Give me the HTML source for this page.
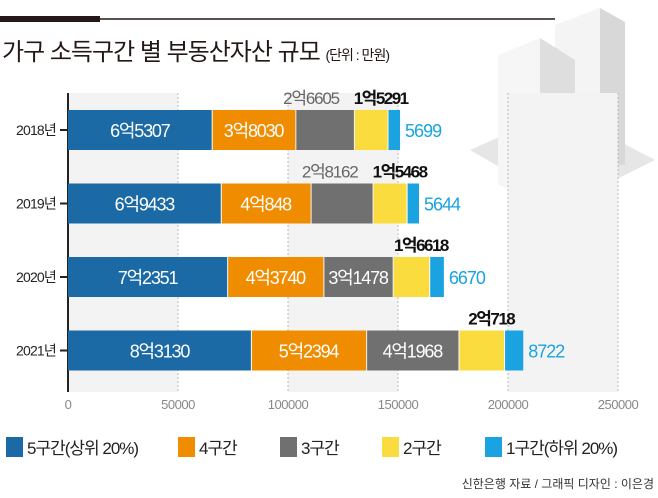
<!DOCTYPE html>
<html><head><meta charset="utf-8"><style>
body{margin:0;background:#fff;width:658px;height:493px;overflow:hidden;font-family:"Liberation Sans","Noto Sans CJK KR",sans-serif}
</style></head><body>
<svg id="c" width="658" height="493" xmlns="http://www.w3.org/2000/svg" style="font-family:'Liberation Sans','Noto Sans CJK KR',sans-serif">
<g>
<polygon points="470,150 560,110 655,160 565,205" fill="#e6e6e6"/>
<polygon points="555,25 600,8 600,165 555,180" fill="#f4f4f4"/>
<polygon points="600,8 625,22 625,165 600,165" fill="#d8d8d8"/>
<polygon points="498,55 540,38 540,200 498,185" fill="#f6f6f6"/>
<polygon points="540,38 575,60 575,190 540,200" fill="#dedede"/>
<rect x="516" y="200" width="100" height="190" fill="#f3f3f3"/>
</g>
<rect x="0" y="16" width="100" height="6" fill="#231815"/>
<line x1="100" y1="19" x2="555" y2="19" stroke="#231815" stroke-width="1.5"/>
<text x="2" y="60" font-size="24" letter-spacing="-1" fill="#231815">가구 소득구간 별 부동산자산 규모 <tspan font-size="14">(단위 : 만원)</tspan></text>
<g id="plot"></g>
<g id="legend"></g>
<text x="654" y="488" font-size="12" fill="#333" text-anchor="end">신한은행 자료 / 그래픽 디자인 : 이은경</text>
</svg>
<script>
const years=["2018년","2019년","2020년","2021년"];
const q5=[65307,69433,72351,83130];
const q4=[38030,40848,43740,52394];
const q3=[26605,28162,31478,41968];
const q2=[15291,15468,16618,20718];
const q1=[5699,5644,6670,8722];
const ticks=[0,50000,100000,150000,200000,250000];
const seriesNames=["5구간(상위 20%)","4구간","3구간","2구간","1구간(하위 20%)"];
const colors=["#1b6aa5","#f08c00","#707070","#fbdc3f","#1aa3e0"];
const ns="http://www.w3.org/2000/svg";
const X0=68,SC=110/50000,Y0=110,STEP=73.5,BH=40,TOP=93,BOT=392;
const x=v=>X0+v*SC, y=i=>Y0+i*STEP;
function fmt(v){const e=Math.floor(v/10000),r=v%10000;return e>0?e+"억"+r:""+r;}
function mk(tag,attrs,parent){const e=document.createElementNS(ns,tag);for(const k in attrs)e.setAttribute(k,attrs[k]);parent.appendChild(e);return e;}
const P=document.getElementById("plot");
ticks.forEach((t,i)=>{
  if(i<ticks.length-1&&i%2==0){const b=mk("rect",{x:x(t),y:TOP,width:x(ticks[i+1])-x(t),height:BOT-TOP,fill:"#f3f3f3"},P);
  
  }
  if(i>0){const g=mk("line",{x1:x(t),x2:x(t),y1:TOP,y2:BOT,stroke:"#aaa","stroke-dasharray":"2,2","stroke-width":0.8},P);
  
  }
  const tl=mk("text",{x:x(t),y:BOT+17,"font-size":13,fill:"#888","text-anchor":"middle","letter-spacing":-0.5},P);tl.textContent=t;
  
  
});
const ax=mk("line",{x1:X0,x2:X0,y1:TOP,y2:BOT,stroke:"#222","stroke-width":2},P);


const series=[q5,q4,q3,q2,q1];
years.forEach((yr,i)=>{
  const yy=y(i);
  const yl=mk("text",{x:56,y:yy+BH/2+5,"font-size":14,fill:"#222","text-anchor":"end","letter-spacing":-0.8},P);yl.textContent=yr;
  
  
  mk("line",{x1:60,x2:X0,y1:yy+BH/2,y2:yy+BH/2,stroke:"#222","stroke-width":2},P);
  let cum=0;
  series.forEach((s,k)=>{
    const v=s[i],x1=x(cum),x2=x(cum+v);
    const r=mk("rect",{x:x1+(k?1:0),y:yy,width:x2-x1-(k?1:0),height:BH,fill:colors[k]},P);
    
    
    const cx=(x1+x2)/2;let t;
    if(k<2||(k==2&&i>=2)){t=mk("text",{x:cx,y:yy+BH/2+7,"font-size":18,fill:"#fff","text-anchor":"middle","letter-spacing":-1.2},P);}
    else if(k==2){t=mk("text",{x:x2-15,y:yy-6,"font-size":17,fill:"#666","text-anchor":"end","letter-spacing":-1.2},P);}
    else if(k==3){t=mk("text",{x:cx+10,y:yy-6,"font-size":17,"font-weight":"bold",fill:"#111","text-anchor":"middle","letter-spacing":-1.5},P);}
    else{t=mk("text",{x:x2+5,y:yy+BH/2+7,"font-size":18,fill:"#1aa3e0","letter-spacing":-1},P);}
    t.textContent=fmt(v);
    
    
    cum+=v;
  });
});
const L=document.getElementById("legend");
const lx=[6,178,280,382,485];
seriesNames.forEach((n,k)=>{
  const r=mk("rect",{x:lx[k],y:437,width:17,height:20,fill:colors[k]},L);
  
  
  const t=mk("text",{x:lx[k]+21,y:454,"font-size":17,fill:"#222","letter-spacing":-1},L);t.textContent=n;
  
  
});
</script>
</body></html>
